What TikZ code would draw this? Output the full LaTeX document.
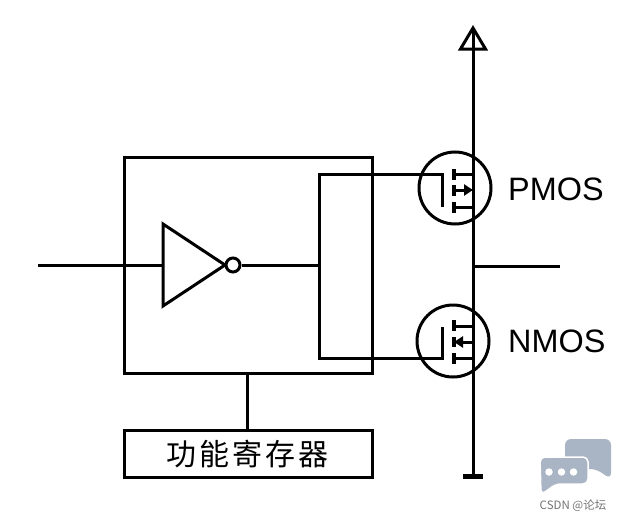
\documentclass[tikz,border=0pt]{standalone}
\usepackage{fontspec}
\setmainfont{Liberation Sans}
\newfontfamily\cjk{Noto Sans CJK SC}
\usetikzlibrary{arrows.meta,shapes.geometric}
\definecolor{wm}{HTML}{A9B4C4}
\tikzset{
  x=1pt,y=-1pt,
  wire/.style={draw=black,line width=3pt,line cap=butt},
  channel/.style={draw=black,line width=3.2pt},
  ring/.style={draw=black,line width=3pt,circle,minimum size=72pt,inner sep=0pt},
  bubble/.style={draw=black,line width=3pt,fill=white,circle,minimum size=14pt,inner sep=0pt},
  lbl/.style={font=\fontsize{32.4}{32.4}\selectfont,inner sep=0pt,anchor=west},
  dot/.style={fill=white,draw=none,circle,minimum size=7.5pt,inner sep=0pt},
  tipr/.style={-{Triangle[length=9pt,width=11pt]}}
}
\begin{document}
\begin{tikzpicture}
\useasboundingbox (0,0) rectangle (619,522);
% blocks
\coordinate (bb1) at (124,157); \coordinate (bb2) at (372,373);
\draw[wire] (bb1) rectangle (bb2);
\node[wire,minimum width=248pt,minimum height=47pt,inner sep=0pt] (reg) at (248,453.5) {};
\node[font=\cjk\fontsize{30}{30}\selectfont,inner sep=0pt] (regt) at (247,454) {功\hspace{3pt}能\hspace{3pt}寄\hspace{3pt}存\hspace{3pt}器};
\coordinate (bbot) at (247,373);
\coordinate (rtop) at (247,430);
\draw[wire] (bbot) -- (rtop);
% inverter
\coordinate (ia) at (163,224); \coordinate (ib) at (163,306); \coordinate (ic) at (225,265);
\draw[wire,line join=miter] (ia) -- (ic) -- (ib) -- cycle;
\node[bubble] (inv) at (233,265) {};
\coordinate (in) at (38,265); \coordinate (ii) at (163,265); \coordinate (bus) at (319,265);
\draw[wire] (in) -- (ii);
\draw[wire] (inv.east) -- (bus);
% MOS circles
\node[ring] (P) at (455,188) {};
\node[ring] (N) at (453,341) {};
% gate nets
\coordinate (pg) at (442,174); \coordinate (pge) at (442,207);
\coordinate (ng) at (442,358); \coordinate (nge) at (442,327);
\coordinate (bt) at (319,174); \coordinate (bb) at (319,358);
\draw[wire,line join=miter] (pge) -- (pg) -- (bt) -- (bb) -- (ng) -- (nge);
% rail
\coordinate (va) at (473,28); \coordinate (vl) at (460.5,49); \coordinate (vr) at (485.5,49);
\coordinate (gnd) at (473,476);
\draw[wire] (va) -- (gnd);
\draw[wire,line join=miter] (va) -- (vr) -- (vl) -- cycle;
\coordinate (g1) at (463,476); \coordinate (g2) at (483,476);
\draw[draw=black,line width=5pt] (g1) -- (g2);
\coordinate (o1) at (473,266); \coordinate (o2) at (560,266);
\draw[wire] (o1) -- (o2);
% PMOS channel
\coordinate (p1a) at (454,169); \coordinate (p1b) at (454,180);
\coordinate (p2a) at (454,185); \coordinate (p2b) at (454,196);
\coordinate (p3a) at (454,202); \coordinate (p3b) at (454,213);
\draw[channel] (p1a) -- (p1b) (p2a) -- (p2b) (p3a) -- (p3b);
\coordinate (ps) at (473,174); \coordinate (pm) at (473,190); \coordinate (pd) at (473,207);
\coordinate (ps0) at (454,174); \coordinate (pm0) at (454,190); \coordinate (pd0) at (454,207);
\draw[wire] (ps0) -- (ps);
\draw[wire] (pd0) -- (pd);
\draw[wire,tipr] (pm0) -- (pm);
% NMOS channel
\coordinate (n1a) at (454,320); \coordinate (n1b) at (454,331);
\coordinate (n2a) at (454,337); \coordinate (n2b) at (454,347);
\coordinate (n3a) at (454,353); \coordinate (n3b) at (454,364);
\draw[channel] (n1a) -- (n1b) (n2a) -- (n2b) (n3a) -- (n3b);
\coordinate (ns) at (473,326); \coordinate (nm) at (473,342); \coordinate (nd) at (473,358);
\coordinate (ns0) at (454,326); \coordinate (nm0) at (454,342); \coordinate (nd0) at (454,358);
\draw[wire] (ns0) -- (ns);
\draw[wire] (nd0) -- (nd);
\draw[wire,tipr] (nm) -- (nm0);
% labels
\node[lbl] (pl) at (508,189) {PMOS};
\node[lbl] (nl) at (508,341) {NMOS};
% watermark
\fill[wm,rounded corners=6pt] (565,439) -- (611,439) -- (611,479) -- (596,469) -- (565,469) -- cycle;
\fill[wm,draw=white,line width=1.5pt,rounded corners=5pt] (540,457) -- (588,457) -- (588,484) -- (556,484) -- (541,495) -- cycle;
\node[dot] (d1) at (549,472) {};
\node[dot] (d2) at (561.5,472) {};
\node[dot] (d3) at (573.5,472) {};
\node[font=\cjk\fontsize{11.5}{11.5}\selectfont,text=black!55,inner sep=0pt] (wt) at (573,506) {CSDN @论坛};
\end{tikzpicture}
\end{document}
